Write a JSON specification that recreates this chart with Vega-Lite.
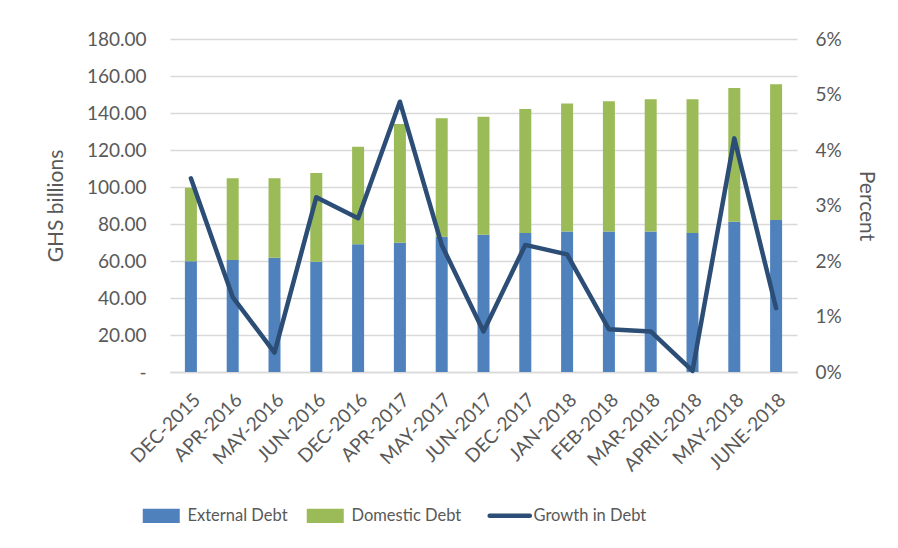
{
  "$schema": "https://vega.github.io/schema/vega-lite/v6.json",
  "autosize": {"type": "none"},
  "width": 627,
  "height": 333,
  "padding": {"left": 170, "top": 39, "right": 101, "bottom": 176},
  "background": "white",
  "config": {
    "view": {"stroke": null},
    "font": "Lato",
    "axis": {"labelColor": "#595959", "titleColor": "#595959", "titleFontWeight": "normal", "labelFont": "Lato", "titleFont": "Lato"},
    "legend": {"labelColor": "#595959", "labelFont": "Lato"}
  },
  "datasets": {
    "debt": [
      {"date": "DEC-2015", "series": "External Debt", "value": 59.8},
      {"date": "DEC-2015", "series": "Domestic Debt", "value": 39.8},
      {"date": "APR-2016", "series": "External Debt", "value": 60.5},
      {"date": "APR-2016", "series": "Domestic Debt", "value": 44.2},
      {"date": "MAY-2016", "series": "External Debt", "value": 61.8},
      {"date": "MAY-2016", "series": "Domestic Debt", "value": 42.9},
      {"date": "JUN-2016", "series": "External Debt", "value": 59.6},
      {"date": "JUN-2016", "series": "Domestic Debt", "value": 48.0},
      {"date": "DEC-2016", "series": "External Debt", "value": 69.0},
      {"date": "DEC-2016", "series": "Domestic Debt", "value": 52.8},
      {"date": "APR-2017", "series": "External Debt", "value": 69.9},
      {"date": "APR-2017", "series": "Domestic Debt", "value": 64.1},
      {"date": "MAY-2017", "series": "External Debt", "value": 73.1},
      {"date": "MAY-2017", "series": "Domestic Debt", "value": 64.0},
      {"date": "JUN-2017", "series": "External Debt", "value": 74.2},
      {"date": "JUN-2017", "series": "Domestic Debt", "value": 63.8},
      {"date": "DEC-2017", "series": "External Debt", "value": 75.1},
      {"date": "DEC-2017", "series": "Domestic Debt", "value": 67.1},
      {"date": "JAN-2018", "series": "External Debt", "value": 76.0},
      {"date": "JAN-2018", "series": "Domestic Debt", "value": 69.2},
      {"date": "FEB-2018", "series": "External Debt", "value": 76.0},
      {"date": "FEB-2018", "series": "Domestic Debt", "value": 70.3},
      {"date": "MAR-2018", "series": "External Debt", "value": 76.0},
      {"date": "MAR-2018", "series": "Domestic Debt", "value": 71.4},
      {"date": "APRIL-2018", "series": "External Debt", "value": 75.1},
      {"date": "APRIL-2018", "series": "Domestic Debt", "value": 72.3},
      {"date": "MAY-2018", "series": "External Debt", "value": 81.2},
      {"date": "MAY-2018", "series": "Domestic Debt", "value": 72.3},
      {"date": "JUNE-2018", "series": "External Debt", "value": 82.2},
      {"date": "JUNE-2018", "series": "Domestic Debt", "value": 73.3}
    ],
    "growth": [
      {"date": "DEC-2015", "series": "Growth in Debt", "growth": 3.49},
      {"date": "APR-2016", "series": "Growth in Debt", "growth": 1.35},
      {"date": "MAY-2016", "series": "Growth in Debt", "growth": 0.35},
      {"date": "JUN-2016", "series": "Growth in Debt", "growth": 3.15},
      {"date": "DEC-2016", "series": "Growth in Debt", "growth": 2.77},
      {"date": "APR-2017", "series": "Growth in Debt", "growth": 4.87},
      {"date": "MAY-2017", "series": "Growth in Debt", "growth": 2.29},
      {"date": "JUN-2017", "series": "Growth in Debt", "growth": 0.73},
      {"date": "DEC-2017", "series": "Growth in Debt", "growth": 2.29},
      {"date": "JAN-2018", "series": "Growth in Debt", "growth": 2.12},
      {"date": "FEB-2018", "series": "Growth in Debt", "growth": 0.77},
      {"date": "MAR-2018", "series": "Growth in Debt", "growth": 0.73},
      {"date": "APRIL-2018", "series": "Growth in Debt", "growth": 0.02},
      {"date": "MAY-2018", "series": "Growth in Debt", "growth": 4.21},
      {"date": "JUNE-2018", "series": "Growth in Debt", "growth": 1.15}
    ]
  },
  "encoding": {
    "x": {
      "field": "date",
      "type": "nominal",
      "sort": null,
      "scale": {"paddingInner": 0, "paddingOuter": 0},
      "axis": {
        "title": null,
        "labelAngle": -45,
        "labelFontSize": 19,
        "labelPadding": 18,
        "ticks": false,
        "domainColor": "#d9d9d9",
        "domainWidth": 1.5,
        "grid": false
      }
    },
    "color": {
      "field": "series",
      "type": "nominal",
      "scale": {
        "domain": ["External Debt", "Domestic Debt", "Growth in Debt"],
        "range": ["#4F81BD", "#9BBB59", "#2C4D75"]
      },
      "legend": {
        "title": null,
        "orient": "none",
        "direction": "horizontal",
        "legendX": -17,
        "legendY": 468,
        "labelFontSize": 16.5,
        "symbolSize": 1369,
        "labelOffset": 18,
        "columnPadding": 18,
        "encode": {
          "symbols": {
            "update": {
              "shape": {"signal": "datum.value === 'Growth in Debt' ? 'M-1.49,0H0.68' : 'M-1,-0.38H1V0.38H-1Z'"},
              "fill": {"signal": "datum.value === 'Growth in Debt' ? 'transparent' : scale('color', datum.value)"},
              "stroke": {"signal": "scale('color', datum.value)"},
              "strokeWidth": {"signal": "datum.value === 'Growth in Debt' ? 4.5 : 0"},
              "strokeCap": {"value": "round"},
              "opacity": {"value": 1},
              "fillOpacity": {"value": 1}
            }
          },
          "labels": {
            "update": {
              "dx": {"signal": "datum.value === 'Growth in Debt' ? -10 : 0"}
            }
          }
        }
      }
    }
  },
  "layer": [
    {
      "data": {"name": "debt"},
      "mark": {"type": "bar", "size": 12},
      "encoding": {
        "y": {
          "field": "value",
          "type": "quantitative",
          "stack": "zero",
          "scale": {"domain": [0, 180], "nice": false},
          "axis": {
            "title": "GHS billions",
            "titleFontSize": 21,
            "titlePadding": 20,
            "values": [0, 20, 40, 60, 80, 100, 120, 140, 160, 180],
            "labelExpr": "datum.value == 0 ? '-   ' : format(datum.value, '.2f')",
            "labelFontSize": 19,
            "labelPadding": 24,
            "ticks": false,
            "domain": false,
            "grid": true,
            "gridColor": "#d9d9d9",
            "gridWidth": 1.5
          }
        },
        "order": {"field": "series", "sort": "descending"}
      }
    },
    {
      "data": {"name": "growth"},
      "mark": {"type": "line", "strokeWidth": 4.5, "strokeCap": "round", "strokeJoin": "round"},
      "encoding": {
        "y": {
          "field": "growth",
          "type": "quantitative",
          "scale": {"domain": [0, 6], "nice": false},
          "axis": {
            "orient": "right",
            "title": "Percent",
            "titleFontSize": 21,
            "titlePadding": 14,
            "values": [0, 1, 2, 3, 4, 5, 6],
            "labelExpr": "datum.value + '%'",
            "labelFontSize": 19,
            "labelPadding": 18,
            "ticks": false,
            "domain": false,
            "grid": false
          }
        }
      }
    }
  ],
  "resolve": {"scale": {"y": "independent"}}
}
